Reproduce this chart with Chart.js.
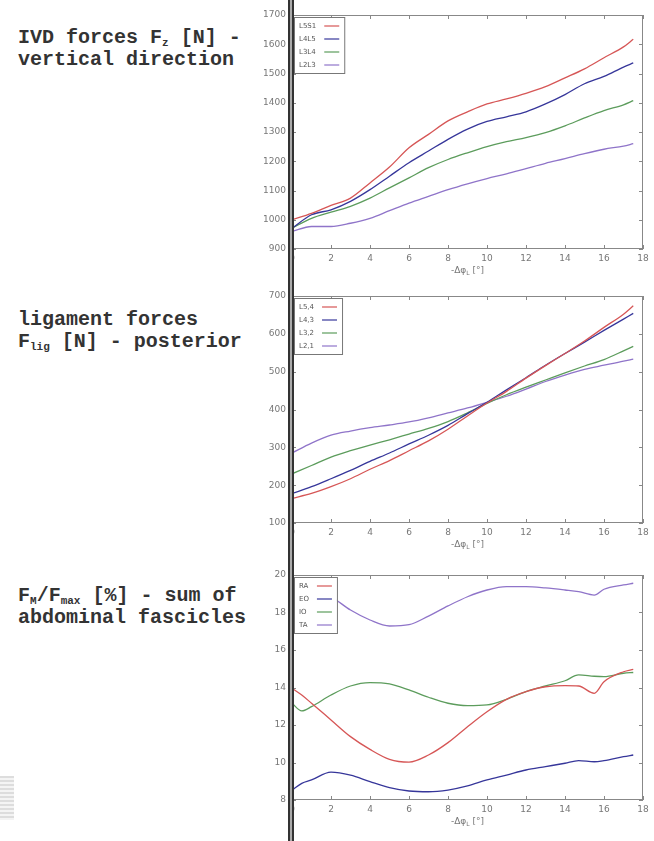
<!DOCTYPE html>
<html>
<head>
<meta charset="utf-8">
<script src="https://cdn.jsdelivr.net/npm/chart.js@4.4.1/dist/chart.umd.min.js"></script>
<style>
  body { margin: 0; width: 654px; height: 841px; background: #fff; position: relative; overflow: hidden; }
  .lbl { position: absolute; left: 18px; font: bold 20px/22px "Liberation Mono", monospace; color: #333; white-space: pre; }
  .lbl sub { font-size: 11px; vertical-align: -3px; line-height: 0; }
  canvas { position: absolute; left: 250px; }
  #rule { position: absolute; left: 288px; top: 0; width: 2px; height: 841px; border-left: 2px solid #333; border-right: 2px solid #333; background: #aaa; }
  #stamp { position: absolute; left: 0; top: 776px; width: 14px; height: 44px;
           background: repeating-linear-gradient(#ddd 0 2px, #f4f4f4 2px 4px); }
</style>
</head>
<body>

<div class="lbl" style="top:27px">IVD forces F<sub>z</sub> [N] -
vertical direction</div>
<div class="lbl" style="top:309px">ligament forces
F<sub>lig</sub> [N] - posterior</div>
<div class="lbl" style="top:585px">F<sub>M</sub>/F<sub>max</sub> [%] - sum of
abdominal fascicles</div>
<div id="stamp"></div>

<canvas id="ivdChart" width="404" height="280" style="top:0px"></canvas>
<canvas id="ligChart" width="404" height="280" style="top:280px"></canvas>
<canvas id="musChart" width="404" height="281" style="top:560px"></canvas>
<div id="rule"></div>

<script>
// x values (-delta phi_L, degrees)
const xKnots = [0, 1, 2, 3, 4, 5, 6, 7, 8, 9, 10, 11, 12, 13, 14, 15, 16, 17, 17.5];
const xKnotsMus = [0, 0.5, 1, 2, 3, 4, 5, 6, 7, 8, 9, 10, 11, 12, 13, 14, 14.7, 15.5, 16, 17, 17.5];

// IVD forces Fz [N]
const ivdLabels = ['L5S1', 'L4L5', 'L3L4', 'L2L3'];
const ivdL5S1 = [1000, 1022, 1049, 1074, 1126, 1180, 1246, 1292, 1338, 1369, 1396, 1413, 1432, 1455, 1485, 1516, 1554, 1591, 1617];
const ivdL4L5 = [971, 1017, 1034, 1063, 1103, 1149, 1195, 1235, 1275, 1310, 1336, 1352, 1369, 1396, 1428, 1465, 1490, 1522, 1536];
const ivdL3L4 = [971, 1005, 1026, 1046, 1074, 1109, 1143, 1178, 1206, 1229, 1250, 1267, 1281, 1298, 1321, 1348, 1373, 1393, 1407];
const ivdL2L3 = [960, 977, 977, 988, 1005, 1031, 1057, 1080, 1103, 1123, 1141, 1157, 1175, 1193, 1209, 1226, 1241, 1252, 1260];

// ligament forces Flig [N]
const ligLabels = ['L5,4', 'L4,3', 'L3,2', 'L2,1'];
const lig54 = [165, 178, 196, 217, 242, 265, 291, 317, 348, 383, 417, 448, 483, 516, 548, 581, 617, 652, 674];
const lig43 = [178, 196, 217, 239, 263, 285, 309, 332, 358, 389, 419, 452, 484, 517, 548, 578, 609, 639, 654];
const lig32 = [230, 252, 274, 291, 306, 320, 335, 350, 368, 391, 416, 439, 459, 478, 497, 515, 532, 555, 567];
const lig21 = [285, 311, 332, 343, 352, 359, 367, 378, 391, 404, 419, 435, 454, 474, 491, 506, 517, 528, 533];

// abdominal fascicles FM/Fmax [%]
const musLabels = ['RA', 'EO', 'IO', 'TA'];
const musRA = [13.96, 13.6, 13.16, 12.27, 11.38, 10.7, 10.17, 10.02, 10.4, 11.06, 11.91, 12.71, 13.37, 13.78, 14.04, 14.1, 14.08, 13.69, 14.31, 14.84, 14.97];
const musEO = [8.53, 8.89, 9.07, 9.49, 9.33, 8.98, 8.66, 8.48, 8.44, 8.53, 8.75, 9.07, 9.33, 9.6, 9.78, 9.96, 10.1, 10.04, 10.1, 10.31, 10.4];
const musIO = [13.16, 12.75, 12.98, 13.6, 14.08, 14.26, 14.19, 13.87, 13.48, 13.16, 13.03, 13.07, 13.37, 13.78, 14.08, 14.36, 14.67, 14.6, 14.58, 14.76, 14.8];
const musTA = [19.47, 19.35, 19.24, 18.84, 18.13, 17.6, 17.28, 17.35, 17.81, 18.35, 18.84, 19.2, 19.38, 19.38, 19.31, 19.2, 19.11, 18.93, 19.24, 19.47, 19.56];

const colors = ['#d65656', '#36369a', '#5c9c5c', '#8f74c9'];

// frame round the plot area with inward ticks
const framePlugin = {
    id: 'frame',
    afterDatasetsDraw(chart) {
        const { ctx, chartArea: a, scales } = chart;
        ctx.save();
        ctx.strokeStyle = '#888';
        ctx.lineWidth = 1;
        ctx.strokeRect(a.left + 0.5, a.top + 0.5, a.right - a.left - 1, a.bottom - a.top - 1);
        ctx.beginPath();
        scales.x.ticks.forEach(t => {
            const px = Math.round(scales.x.getPixelForValue(t.value)) + 0.5;
            ctx.moveTo(px, a.bottom); ctx.lineTo(px, a.bottom - 4);
            ctx.moveTo(px, a.top); ctx.lineTo(px, a.top + 4);
        });
        scales.y.ticks.forEach(t => {
            const py = Math.round(scales.y.getPixelForValue(t.value)) + 0.5;
            ctx.moveTo(a.left, py); ctx.lineTo(a.left + 4, py);
            ctx.moveTo(a.right, py); ctx.lineTo(a.right - 4, py);
        });
        ctx.stroke();
        ctx.restore();
    }
};

// legend box in the upper left corner: text, then line sample
const legendPlugin = {
    id: 'legendInside',
    afterDraw(chart) {
        const { ctx, chartArea: a } = chart;
        const sets = chart.data.datasets;
        ctx.save();
        ctx.font = '7px "DejaVu Sans"';
        const tw = Math.max(...sets.map(d => ctx.measureText(d.label).width));
        const x0 = a.left + 2, y0 = a.top + 2;
        const w = 5 + tw + 8 + 15 + 5, h = sets.length * 13 + 4;
        ctx.fillStyle = '#fff';
        ctx.fillRect(x0, y0, w, h);
        ctx.strokeStyle = '#777';
        ctx.lineWidth = 1;
        ctx.strokeRect(x0 + 0.5, y0 + 0.5, w, h);
        sets.forEach((d, i) => {
            const y = y0 + 9 + i * 13;
            ctx.fillStyle = '#555';
            ctx.textBaseline = 'middle';
            ctx.fillText(d.label, x0 + 5, y);
            ctx.strokeStyle = d.borderColor;
            ctx.lineWidth = 1.2;
            ctx.beginPath();
            ctx.moveTo(x0 + 5 + tw + 8, y);
            ctx.lineTo(x0 + 5 + tw + 8 + 15, y);
            ctx.stroke();
        });
        ctx.restore();
    }
};

// x axis title: -Δφ with subscript L
const xTitlePlugin = {
    id: 'xTitle',
    afterDraw(chart) {
        const { ctx, chartArea: a } = chart;
        const parts = [['-Δφ', 9, 0], ['L', 6, 2], [' [°]', 9, 0]];
        ctx.save();
        ctx.fillStyle = '#777';
        ctx.textBaseline = 'middle';
        let total = 0;
        parts.forEach(p => { ctx.font = p[1] + 'px "DejaVu Sans"'; total += ctx.measureText(p[0]).width; });
        let x = (a.left + a.right) / 2 - total / 2;
        const y = a.bottom + 22;
        parts.forEach(p => {
            ctx.font = p[1] + 'px "DejaVu Sans"';
            ctx.fillText(p[0], x, y + p[2]);
            x += ctx.measureText(p[0]).width;
        });
        ctx.restore();
    }
};

function makeChart(id, xs, series, labels, yMin, yMax, yStep, padTop, xHeight) {
    const ctx = document.getElementById(id).getContext('2d');
    return new Chart(ctx, {
        type: 'line',
        data: {
            datasets: series.map((s, i) => ({
                label: labels[i],
                data: s.map((v, j) => ({ x: xs[j], y: v })),
                borderColor: colors[i],
                borderWidth: 1.3,
                pointRadius: 0,
                cubicInterpolationMode: 'monotone',
                fill: false
            }))
        },
        options: {
            responsive: false,
            animation: false,
            layout: { padding: { top: padTop, right: 11, left: 0, bottom: 0 } },
            plugins: { legend: { display: false }, tooltip: { enabled: false } },
            scales: {
                x: {
                    type: 'linear',
                    min: 0,
                    max: 18,
                    grid: { display: false, drawTicks: false },
                    border: { display: false },
                    ticks: { stepSize: 2, padding: 4, color: '#777', font: { family: 'DejaVu Sans', size: 9 }, maxRotation: 0 },
                    afterFit(s) { s.height = xHeight; }
                },
                y: {
                    min: yMin,
                    max: yMax,
                    grid: { display: false, drawTicks: false },
                    border: { display: false },
                    ticks: {
                        stepSize: yStep, padding: 6, color: '#777', font: { family: 'DejaVu Sans', size: 9 },
                        callback: v => String(v)
                    },
                    afterFit(s) { s.width = 42; }
                }
            }
        },
        plugins: [framePlugin, legendPlugin, xTitlePlugin]
    });
}

makeChart('ivdChart', xKnots, [ivdL5S1, ivdL4L5, ivdL3L4, ivdL2L3], ivdLabels, 900, 1700, 100, 15, 31);
makeChart('ligChart', xKnots, [lig54, lig43, lig32, lig21], ligLabels, 100, 700, 100, 16, 37);
makeChart('musChart', xKnotsMus, [musRA, musEO, musIO, musTA], musLabels, 8, 20, 2, 15, 41);
</script>
</body>
</html>
